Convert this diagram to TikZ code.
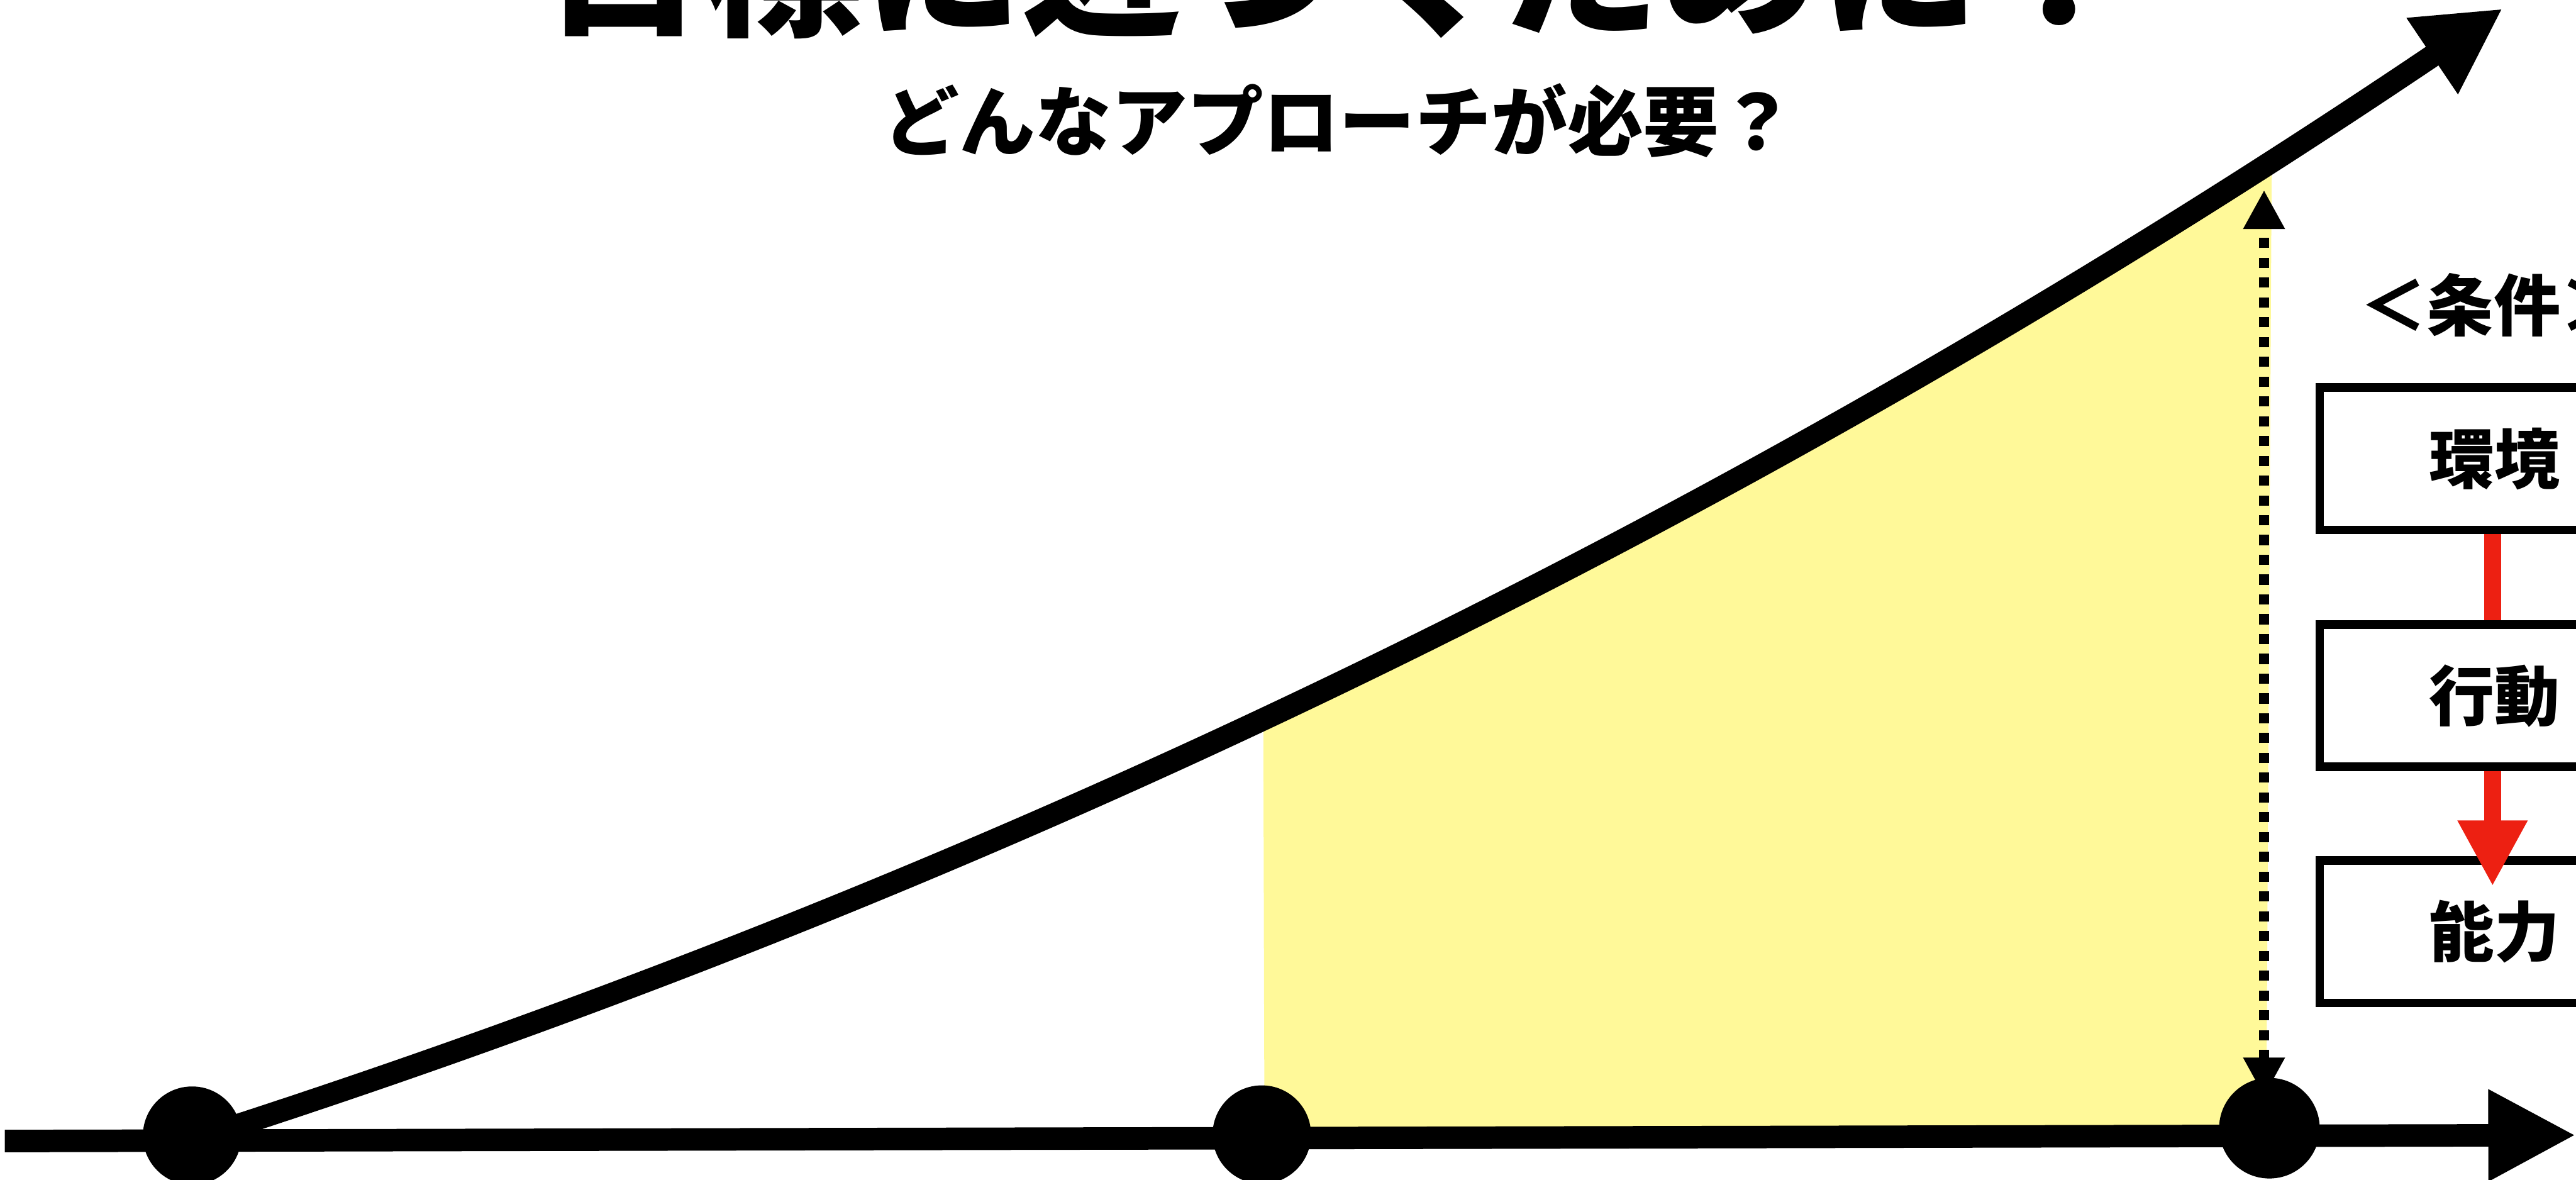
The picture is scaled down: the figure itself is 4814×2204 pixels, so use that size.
\documentclass[tikz,border=0pt]{standalone}
\usepackage{fontspec}
\newfontfamily\cjk{Noto Sans CJK JP}
\usetikzlibrary{arrows.meta}
\definecolor{hl}{RGB}{255,249,153}
\definecolor{redarr}{RGB}{237,32,18}
\begin{document}
\begin{tikzpicture}[x=1pt,y=-1pt,
  dotnode/.style={circle, fill=black, inner sep=0pt, minimum size=184pt},
  stepbox/.style={draw=black, line width=16pt, fill=white, minimum width=654pt,
    minimum height=266pt, inner sep=0pt, font=\cjk\bfseries\fontsize{122}{140}\selectfont},
  bigline/.style={line width=42pt, black},
  bighead/.style={-{Triangle[length=#1,width=160pt]}},
  dotline/.style={line width=19pt, dash pattern=on 19pt off 18pt,
    {Triangle[length=73pt,width=73pt]}-{Triangle[length=73pt,width=73pt]}},
  redbar/.style={line width=32pt, redarr},
  txt/.style={inner sep=0pt, text=black}
]
\fill[white] (0,0) rectangle (4814,2204);
\useasboundingbox (0,0) rectangle (4814,2204);

% points
\coordinate (axL) at (9,2132);
\coordinate (axR) at (4814,2121);
\coordinate (cStart) at (359,2130);
\coordinate (cTip) at (4677,16);
\coordinate (dotB) at (4231,2049);
\coordinate (dotT) at (4231,355);

% yellow area under the curve
\begin{scope}
  \clip (2357,0) -- (2363,2121) -- (4235,2121) -- (4247,0) -- cycle;
  \fill[hl] (cStart) .. controls (1759,1682) and (3177,1027) .. (cTip)
     -- (4814,2204) -- (0,2204) -- cycle;
\end{scope}

% growth curve
\draw[bigline, bighead=159pt] (cStart) .. controls (1759,1682) and (3177,1027) .. (cTip);

% axis
\draw[bigline, bighead=164pt] (axL) -- (axR);

% dotted double arrow
\draw[dotline] (dotB) -- (dotT);

% dots
\node[dotnode] (d1) at (359,2122) {};
\node[dotnode] (d2) at (2358,2120) {};
\node[dotnode, minimum size=188pt] (d3) at (4241,2108) {};

% titles
\node[txt, anchor=base, font=\cjk\bfseries\fontsize{298}{340}\selectfont] (title) at (2507,44) {目標に近づくために！};
\node[txt, anchor=base, font=\cjk\bfseries\fontsize{142}{170}\selectfont] (sub) at (2503,280) {どんなアプローチが必要？};

% right column
\node[txt, anchor=base west, font=\cjk\bfseries\fontsize{125}{150}\selectfont] (cond) at (4410,618) {＜条件＞};
\node[stepbox] (b1) at (4662,857) {環境};
\node[stepbox] (b2) at (4662,1300) {行動};
\node[stepbox] (b3) at (4662,1741) {能力};
\coordinate (b3tip) at ([yshift=-56pt]b3.north);

\draw[redbar] ([xshift=-4pt]b1.south) -- ([xshift=-4pt]b2.north);
\draw[redbar, -{Triangle[length=123pt,width=122pt]}] ([xshift=-4pt]b2.south) -- ([xshift=-4pt]b3tip);
\end{tikzpicture}
\end{document}
